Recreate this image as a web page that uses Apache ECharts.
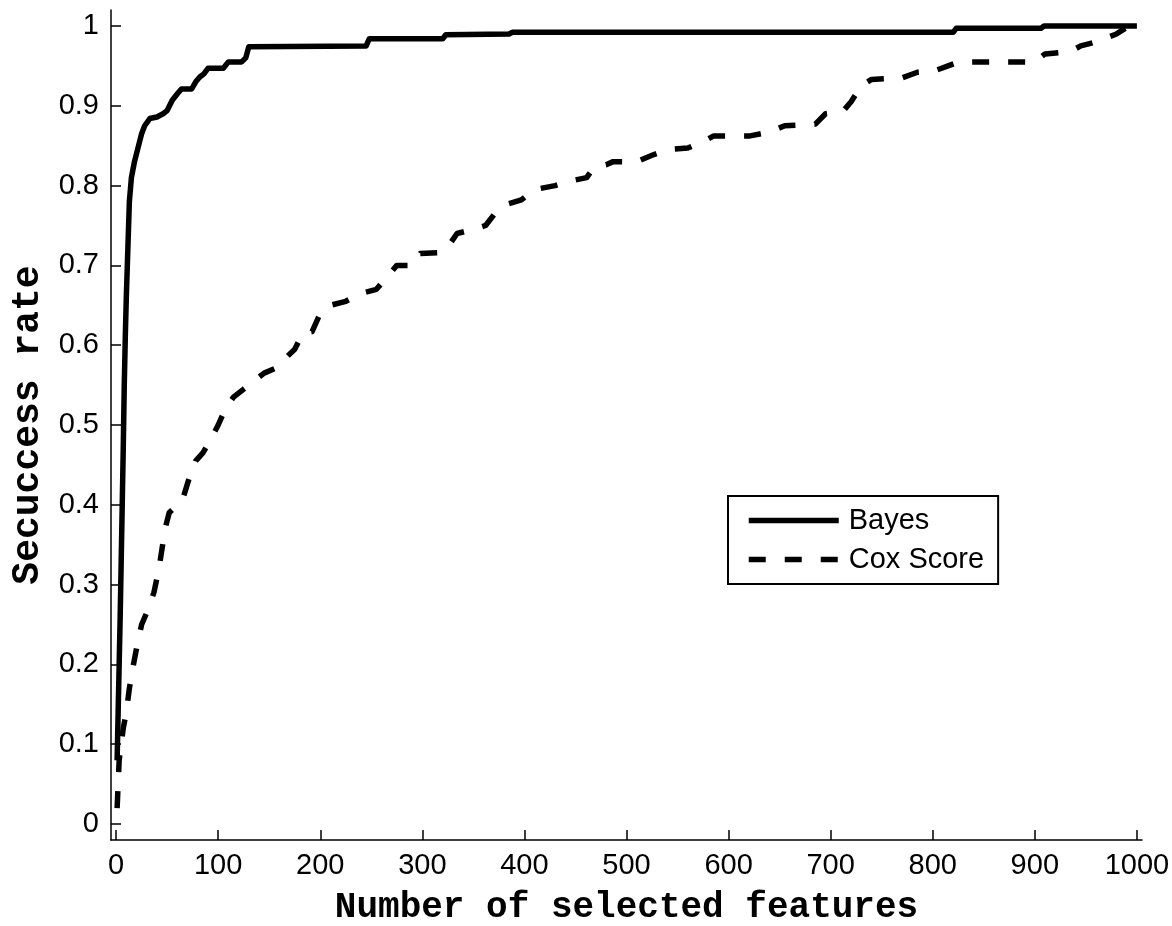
<!DOCTYPE html>
<html>
<head>
<meta charset="utf-8">
<script src="https://cdn.jsdelivr.net/npm/echarts@6/dist/echarts.min.js"></script>
<style>
  html, body { margin: 0; padding: 0; background: #fff; }
  #chart { width: 1172px; height: 926px; }
</style>
</head>
<body>
<div id="chart"></div>
<script>
// tick positions
var xTicks = [0, 100, 200, 300, 400, 500, 600, 700, 800, 900, 1000];
var yTicks = [0, 0.1, 0.2, 0.3, 0.4, 0.5, 0.6, 0.7, 0.8, 0.9, 1];

// Bayes (solid)
var bayesX = [1, 2, 3, 4, 5, 6, 7, 8, 9, 10, 11, 12, 13, 15, 18, 20, 23, 25, 28, 33, 40, 46, 50, 55, 60, 64, 74, 78, 82, 86, 90, 105, 110, 123, 127, 130, 245, 248, 320, 323, 385, 388, 820, 823, 906, 909, 1000];
var bayesY = [0.08, 0.14, 0.2, 0.26, 0.33, 0.4, 0.47, 0.55, 0.61, 0.66, 0.7, 0.74, 0.78, 0.81, 0.83, 0.84, 0.855, 0.865, 0.875, 0.884, 0.886, 0.89, 0.894, 0.907, 0.915, 0.921, 0.921, 0.93, 0.936, 0.94, 0.947, 0.947, 0.955, 0.955, 0.96, 0.974, 0.975, 0.984, 0.984, 0.989, 0.99, 0.992, 0.992, 0.997, 0.997, 1.0, 1.0];

// Cox Score (dashed)
var coxX = [1, 2, 3, 5, 7, 10, 13, 17, 20, 25, 30, 37, 42, 45, 48, 52, 60, 66, 72, 78, 85, 92, 100, 107, 115, 125, 135, 145, 158, 167, 175, 183, 192, 200, 210, 225, 240, 255, 265, 275, 290, 298, 318, 326, 334, 350, 362, 371, 384, 397, 410, 430, 446, 461, 468, 480, 487, 510, 525, 540, 560, 575, 585, 620, 640, 655, 685, 695, 712, 720, 730, 740, 770, 785, 800, 815, 826, 900, 910, 935, 945, 960, 970, 980, 990, 1000];
var coxY = [0.02, 0.05, 0.08, 0.1, 0.12, 0.14, 0.17, 0.2, 0.22, 0.25, 0.265, 0.29, 0.32, 0.345, 0.37, 0.39, 0.4, 0.41, 0.435, 0.455, 0.465, 0.48, 0.5, 0.52, 0.535, 0.545, 0.555, 0.565, 0.572, 0.585, 0.595, 0.615, 0.617, 0.64, 0.65, 0.655, 0.665, 0.67, 0.685, 0.7, 0.7, 0.715, 0.716, 0.725, 0.74, 0.745, 0.75, 0.765, 0.777, 0.782, 0.795, 0.8, 0.806, 0.81, 0.823, 0.826, 0.83, 0.83, 0.838, 0.845, 0.847, 0.855, 0.862, 0.862, 0.867, 0.875, 0.877, 0.89, 0.893, 0.905, 0.925, 0.933, 0.935, 0.942, 0.943, 0.95, 0.955, 0.955, 0.965, 0.968, 0.975, 0.98, 0.985, 0.99, 0.998, 1.0];

function pares(xs, ys) {
    let out = [];
    for (let i = 0; i < xs.length; i++) {
        out.push([xs[i], ys[i]]);
    }
    return out;
}

var tickFont = 'Liberation Sans';
var titleFont = 'Liberation Mono';
var dashPat = [17, 19];

var myChart = echarts.init(document.getElementById('chart'), null, {renderer: 'canvas'});

var option = {
    animation: false,
    backgroundColor: '#fff',
    // keep the plot box fixed, the axis titles may touch the edge
    grid: {left: 111, right: 30, top: 10, bottom: 86, outerBoundsMode: 'none'},
    legend: {
        orient: 'vertical',
        left: 728,
        top: 496,
        padding: [10, 14, 10, 18],
        itemGap: 10,
        itemWidth: 90,
        itemHeight: 29,
        borderColor: '#000',
        borderWidth: 2,
        backgroundColor: '#fff',
        textStyle: {fontFamily: tickFont, fontSize: 29, color: '#000', padding: [0, 0, 0, 5]},
        data: [
            // itemStyle opacity 0 hides the marker dot, only the line stays
            {name: 'Bayes', itemStyle: {opacity: 0}, lineStyle: {width: 5.5, color: '#000', type: 'solid'}},
            {name: 'Cox Score', itemStyle: {opacity: 0}, lineStyle: {width: 5.5, color: '#000', type: dashPat}}
        ]
    },
    xAxis: {
        type: 'value',
        min: -5,
        max: 1005,
        name: 'Number of selected features',
        nameLocation: 'middle',
        nameGap: 50,
        nameTextStyle: {fontFamily: titleFont, fontWeight: 'bold', fontSize: 36, color: '#000'},
        axisLine: {show: true, onZero: false, lineStyle: {color: '#000', width: 1.5}},
        axisTick: {show: true, inside: true, length: 10, customValues: xTicks, lineStyle: {color: '#000', width: 1.5}},
        axisLabel: {
            customValues: xTicks, margin: 11, fontFamily: tickFont, fontSize: 29, color: '#000',
            formatter: function (v) { return String(v); }
        },
        splitLine: {show: false}
    },
    yAxis: {
        type: 'value',
        min: -0.02,
        max: 1.02,
        name: 'Secuccess rate',
        nameLocation: 'middle',
        nameGap: 62,
        nameTextStyle: {fontFamily: titleFont, fontWeight: 'bold', fontSize: 38, color: '#000'},
        axisLine: {show: true, onZero: false, lineStyle: {color: '#000', width: 1.5}},
        axisTick: {show: true, inside: true, length: 10, customValues: yTicks, lineStyle: {color: '#000', width: 1.5}},
        axisLabel: {customValues: yTicks, margin: 12, fontFamily: tickFont, fontSize: 29, color: '#000'},
        splitLine: {show: false}
    },
    series: [
        {
            name: 'Bayes',
            type: 'line',
            data: pares(bayesX, bayesY),
            symbol: 'none',
            showSymbol: false,
            itemStyle: {color: '#000'},
            lineStyle: {color: '#000', width: 5.5, type: 'solid', join: 'round'}
        },
        {
            name: 'Cox Score',
            type: 'line',
            data: pares(coxX, coxY),
            symbol: 'none',
            showSymbol: false,
            itemStyle: {color: '#000'},
            lineStyle: {color: '#000', width: 5.5, type: dashPat, join: 'round'}
        }
    ]
};

myChart.setOption(option);
</script>
</body>
</html>
